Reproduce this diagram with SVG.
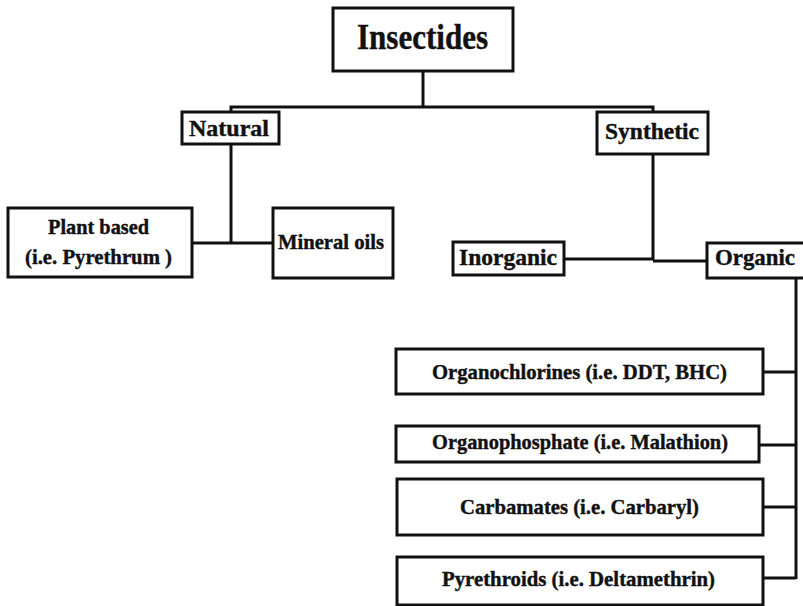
<svg xmlns="http://www.w3.org/2000/svg" width="803" height="606" viewBox="0 0 803 606">
<style>
.box{fill:#fff;stroke:#111;stroke-width:3}
.t{font-family:"Liberation Serif","Times New Roman",serif;font-weight:bold;fill:#111;stroke:#111;stroke-width:0.4;text-anchor:middle}
.c{fill:none;stroke:#111;stroke-width:3}
</style>
<rect width="803" height="606" fill="#fff"/>
<g id="connectors">
<polyline class="c" points="423,71 423,107"/>
<polyline class="c" points="231,112 231,107 653,107 653,112"/>
<polyline class="c" points="231,144 231,243"/>
<polyline class="c" points="192,243 273,243"/>
<polyline class="c" points="653,154 653,260"/>
<polyline class="c" points="564,259 653,259"/>
<polyline class="c" points="653,261 707,261"/>
<polyline class="c" points="796,278 796,579"/>
<polyline class="c" points="763,372 796,372"/>
<polyline class="c" points="759,445 796,445"/>
<polyline class="c" points="763,507 796,507"/>
<polyline class="c" points="763,578 796,578"/>
</g>
<g id="insectides"><rect class="box" x="333" y="8" width="180" height="63"/><text class="t" x="422.5" y="49" font-size="35" textLength="131" lengthAdjust="spacingAndGlyphs">Insectides</text></g>
<g id="natural"><rect class="box" x="182" y="112" width="97" height="32"/><text class="t" x="229" y="136" font-size="23" textLength="80" lengthAdjust="spacingAndGlyphs">Natural</text></g>
<g id="synthetic"><rect class="box" x="597" y="112" width="111" height="42"/><text class="t" x="652" y="139" font-size="23" textLength="94" lengthAdjust="spacingAndGlyphs">Synthetic</text></g>
<g id="plant"><rect class="box" x="8" y="208" width="184" height="69"/><text class="t" x="98.5" y="234" font-size="21" textLength="101" lengthAdjust="spacingAndGlyphs">Plant based</text><text class="t" x="98.5" y="264" font-size="21" textLength="147" lengthAdjust="spacingAndGlyphs">(i.e. Pyrethrum )</text></g>
<g id="mineral"><rect class="box" x="273" y="208" width="120" height="70"/><text class="t" x="331" y="249" font-size="21" textLength="106" lengthAdjust="spacingAndGlyphs">Mineral oils</text></g>
<g id="inorganic"><rect class="box" x="453" y="242" width="111" height="33"/><text class="t" x="508" y="265" font-size="23" textLength="98" lengthAdjust="spacingAndGlyphs">Inorganic</text></g>
<g id="organic"><rect class="box" x="707" y="243" width="100" height="35"/><text class="t" x="755" y="265" font-size="23" textLength="80" lengthAdjust="spacingAndGlyphs">Organic</text></g>
<g id="organochlorines"><rect class="box" x="396" y="349" width="367" height="45"/><text class="t" x="579.5" y="379" font-size="21" textLength="295" lengthAdjust="spacingAndGlyphs">Organochlorines (i.e. DDT, BHC)</text></g>
<g id="organophosphate"><rect class="box" x="396" y="426" width="363" height="36"/><text class="t" x="580" y="449" font-size="21" textLength="296" lengthAdjust="spacingAndGlyphs">Organophosphate (i.e. Malathion)</text></g>
<g id="carbamates"><rect class="box" x="397" y="479" width="366" height="56"/><text class="t" x="579.5" y="514" font-size="21" textLength="239" lengthAdjust="spacingAndGlyphs">Carbamates (i.e. Carbaryl)</text></g>
<g id="pyrethroids"><rect class="box" x="397" y="557" width="366" height="48"/><text class="t" x="578.5" y="586" font-size="21" textLength="273" lengthAdjust="spacingAndGlyphs">Pyrethroids (i.e. Deltamethrin)</text></g>
</svg>
